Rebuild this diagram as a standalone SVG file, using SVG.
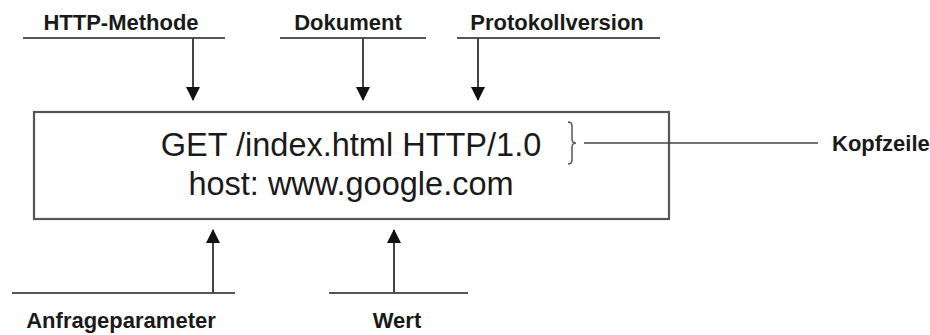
<svg xmlns="http://www.w3.org/2000/svg" width="930" height="335" viewBox="0 0 930 335">
  <defs>
    <marker id="arrow" viewBox="0 0 14 14" refX="13" refY="7" markerWidth="14" markerHeight="14" markerUnits="userSpaceOnUse" orient="auto">
      <path d="M0,0 L14,7 L0,14 Z" fill="#111"/>
    </marker>
    <style>
      .label { font-family: "Liberation Sans", Arial, sans-serif; font-weight: bold; font-size: 22px; fill: #1a1a1a; }
      .req { font-family: "Liberation Sans", Arial, sans-serif; font-size: 32.5px; fill: #1a1a1a; text-anchor: middle; }
      .rule { stroke: #555; stroke-width: 2; fill: none; }
      .conn { stroke: #444; stroke-width: 2; fill: none; marker-end: url(#arrow); }
      .box { fill: #fff; stroke: #555; stroke-width: 2.2; }
    </style>
  </defs>

  <rect width="930" height="335" fill="#fff"/>

  <!-- request message -->
  <g id="request">
    <rect class="box" x="34" y="112" width="635" height="107"/>
    <text class="req" x="351" y="156">GET /index.html HTTP/1.0</text>
    <text class="req" x="351" y="195">host: www.google.com</text>
    <path d="M568,122 q4,0 4,4 v13 q0,4 4,4 q-4,0 -4,4 v13 q0,4 -4,4" stroke="#555" stroke-width="1.5" fill="none"/>
  </g>

  <!-- annotations above the box -->
  <g id="methode">
    <text class="label" x="121" y="30" text-anchor="middle">HTTP-Methode</text>
    <line class="rule" x1="23" y1="38" x2="225" y2="38"/>
  </g>
  <g id="dokument">
    <text class="label" x="348" y="30" text-anchor="middle">Dokument</text>
    <line class="rule" x1="280" y1="38" x2="426" y2="38"/>
  </g>
  <g id="protokollversion">
    <text class="label" x="557" y="30" text-anchor="middle">Protokollversion</text>
    <line class="rule" x1="457" y1="38" x2="660" y2="38"/>
  </g>

  <!-- annotation to the right -->
  <g id="kopfzeile">
    <text class="label" x="832" y="151">Kopfzeile</text>
  </g>

  <!-- annotations below the box -->
  <g id="anfrageparameter">
    <line class="rule" x1="12" y1="293" x2="235" y2="293"/>
    <text class="label" x="121" y="328" text-anchor="middle">Anfrageparameter</text>
  </g>
  <g id="wert">
    <line class="rule" x1="329" y1="293" x2="468" y2="293"/>
    <text class="label" x="397" y="328" text-anchor="middle">Wert</text>
  </g>

  <!-- connectors -->
  <g id="connectors">
    <line class="conn" x1="193" y1="38" x2="193" y2="100"/>
    <line class="conn" x1="363" y1="38" x2="363" y2="100"/>
    <line class="conn" x1="478" y1="38" x2="478" y2="100"/>
    <line class="conn" x1="213" y1="293" x2="213" y2="230"/>
    <line class="conn" x1="394" y1="293" x2="394" y2="230"/>
    <line x1="584" y1="143" x2="818" y2="143" stroke="#444" stroke-width="1.6"/>
  </g>
</svg>
